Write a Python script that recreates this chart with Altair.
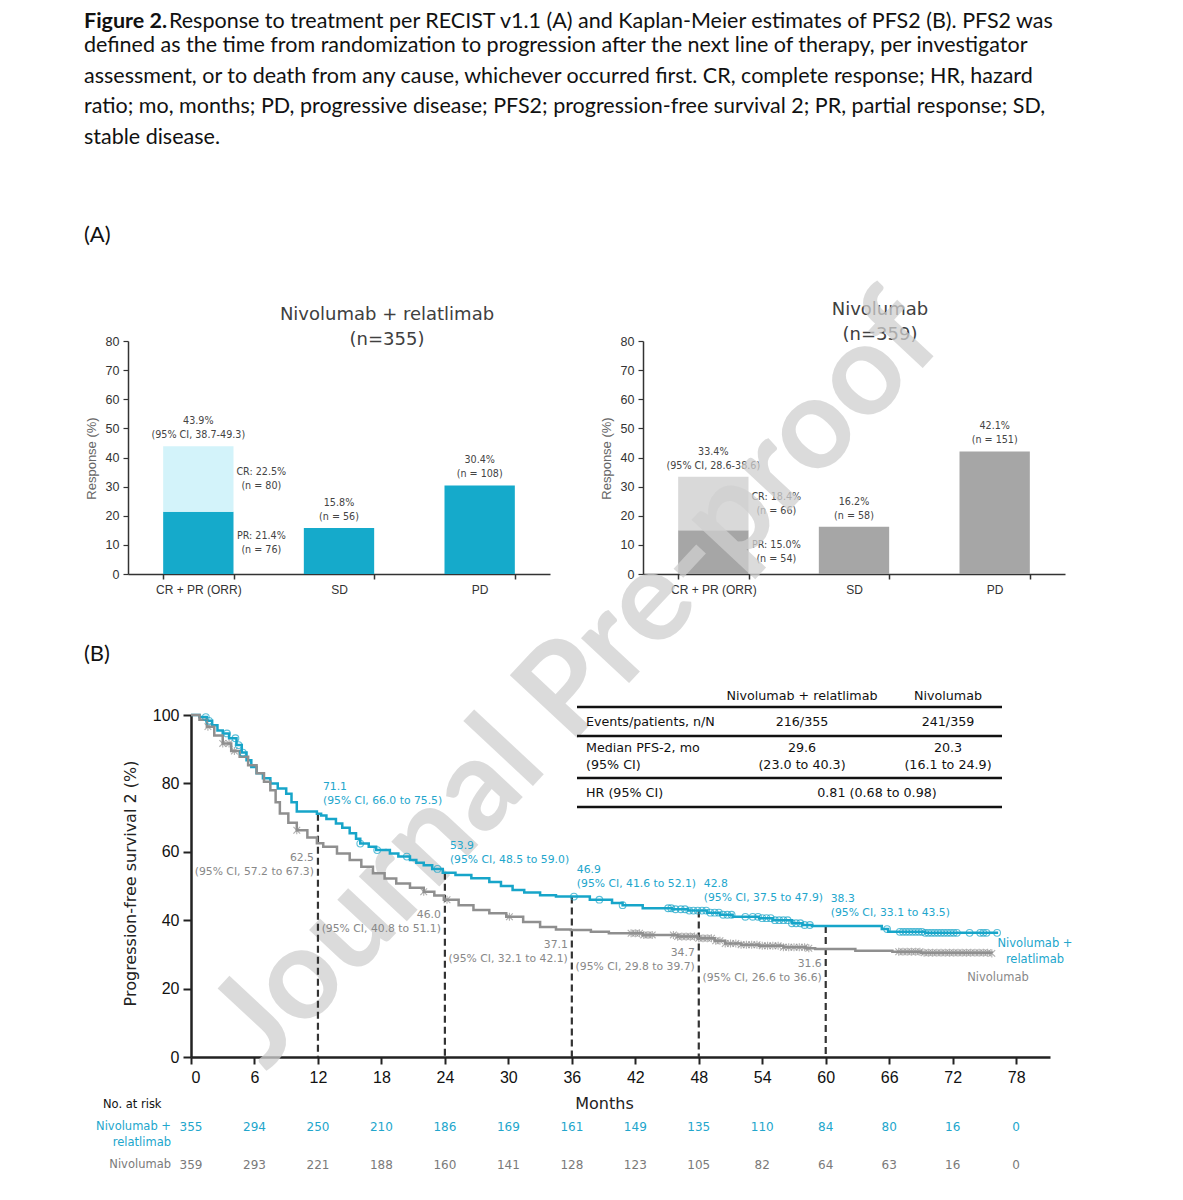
import altair as alt
import numpy as np
import pandas as pd

# ------------------------------------------------------------------ data
caption_bold = "Figure 2."
caption_first = "Response to treatment per RECIST v1.1 (A) and Kaplan-Meier estimates of PFS2 (B). PFS2 was"
caption_lines = [
    "defined as the time from randomization to progression after the next line of therapy, per investigator",
    "assessment, or to death from any cause, whichever occurred first. CR, complete response; HR, hazard",
    "ratio; mo, months; PD, progressive disease; PFS2; progression-free survival 2; PR, partial response; SD,",
    "stable disease.",
]

resp_categories = ["CR + PR (ORR)", "SD", "PD"]
resp_segment_cat = ["CR + PR (ORR)", "CR + PR (ORR)", "SD", "PD"]
resp_segments = ["PR", "CR", "SD", "PD"]

combo_title = "Nivolumab + relatlimab\n(n=355)"
combo_values = [21.4, 22.5, 15.8, 30.4]
combo_top_labels = ["43.9%\n(95% CI, 38.7-49.3)", "15.8%\n(n = 56)", "30.4%\n(n = 108)"]
combo_seg_labels = ["PR: 21.4%\n(n = 76)", "CR: 22.5%\n(n = 80)"]

nivo_title = "Nivolumab\n(n=359)"
nivo_values = [15.0, 18.4, 16.2, 42.1]
nivo_top_labels = ["33.4%\n(95% CI, 28.6-38.6)", "16.2%\n(n = 58)", "42.1%\n(n = 151)"]
nivo_seg_labels = ["PR: 15.0%\n(n = 54)", "CR: 18.4%\n(n = 66)"]

arms = ["Nivolumab + relatlimab", "Nivolumab"]
km_month_ticks = [0, 6, 12, 18, 24, 30, 36, 42, 48, 54, 60, 66, 72, 78]
km_pct_ticks = [0, 20, 40, 60, 80, 100]

combo_km_months = [0, 0.8, 1.5, 2.0, 2.5, 3.0, 3.6, 4.3, 4.8, 5.25, 5.7, 6.2, 6.8, 7.5, 8.2,
                   9.0, 9.5, 10.0, 11.9, 12.3, 12.8, 13.7, 14.3, 15.0, 15.6, 16.0, 16.8, 17.5,
                   18.8, 19.6, 20.7, 21.3, 22.0, 22.8, 23.8, 25.0, 26.5, 28.2, 29.3, 30.4, 31.5,
                   33.0, 34.5, 37.7, 39.8, 40.8, 42.7, 45.5, 47.0, 48.8, 50.0, 51.2, 53.7, 55.0,
                   56.8, 57.8, 58.7, 64.7, 65.3, 65.9, 69.4, 76.3]
combo_km_pfs2 = [100, 99.4, 98.3, 97.0, 95.5, 94.6, 93.2, 91.2, 89.0, 86.8, 84.8, 83.0, 81.5, 80.0, 78.5,
                 77.0, 74.5, 71.8, 71.1, 70.6, 69.6, 68.3, 67.0, 65.4, 63.8, 62.4, 61.5, 60.5,
                 59.5, 58.6, 57.6, 56.8, 56.1, 55.0, 53.9, 53.2, 52.3, 51.2, 50.0, 48.8, 48.1,
                 47.3, 46.9, 46.0, 45.0, 44.4, 43.5, 43.2, 42.8, 42.2, 41.6, 41.0, 40.6, 40.0,
                 39.1, 38.6, 38.3, 38.3, 37.4, 36.6, 36.3, 36.3]

nivo_km_months = [0, 0.8, 1.5, 2.2, 3.0, 3.8, 4.6, 5.4, 6.2, 6.9, 7.5, 8.0, 8.4, 9.2, 10.0,
                  11.0, 11.9, 12.5, 13.8, 15.0, 16.1, 17.2, 18.3, 19.4, 20.7, 22.0, 23.0, 23.9,
                  25.3, 26.7, 28.2, 29.8, 31.4, 33.0, 34.5, 35.9, 37.8, 39.5, 42.7, 46.0, 47.9,
                  49.5, 50.5, 52.0, 53.7, 56.0, 58.1, 59.0, 62.8, 66.3, 69.0, 75.7]
nivo_km_pfs2 = [100, 98.6, 96.6, 94.0, 91.7, 89.5, 87.8, 85.3, 83.0, 80.5, 78.0, 74.5, 71.2, 68.5, 66.3,
                64.2, 62.5, 61.5, 59.5, 57.6, 55.6, 53.7, 52.2, 50.7, 49.5, 48.3, 47.2, 46.0,
                44.4, 43.0, 42.0, 41.0, 39.5, 38.0, 37.3, 37.1, 36.6, 36.2, 35.7, 35.2, 34.7,
                34.0, 33.2, 32.8, 32.5, 32.1, 31.8, 31.6, 31.1, 30.8, 30.5, 30.3]

combo_censor_months = [1.4, 1.7, 3.4, 4.2, 4.5, 4.9, 16.0, 17.6, 20.4, 23.3, 36.2, 38.6, 40.8,
                       45.1, 45.4, 45.8, 46.3, 46.7, 47.1, 47.5, 47.9, 48.3, 48.7, 49.1, 49.5,
                       49.9, 50.3, 50.7, 51.1, 52.4, 53.1, 53.6, 54.0, 54.4, 54.8, 55.2, 55.6,
                       56.0, 56.4, 56.8, 57.2, 57.6, 58.0, 58.5, 65.8, 67.0, 67.3, 67.6, 67.9,
                       68.2, 68.5, 68.8, 69.1, 69.4, 69.7, 70.0, 70.3, 70.6, 70.9, 71.2, 71.5,
                       71.8, 72.1, 72.4, 73.6, 74.6, 74.9, 75.2, 76.2]
nivo_censor_months = [1.6, 3.0, 3.6, 4.1, 10.0, 22.0, 24.2, 30.1, 41.6, 42.0, 42.4, 42.8, 43.2,
                      43.6, 45.6, 46.0, 46.4, 46.8, 47.2, 47.6, 48.0, 48.4, 48.8, 49.2, 49.6,
                      50.0, 50.5, 51.0, 51.5, 52.0, 52.5, 53.0, 53.5, 54.0, 54.5, 55.0, 55.5,
                      56.0, 56.5, 57.0, 57.5, 58.0, 58.4, 66.9, 67.3, 67.7, 68.1, 68.5, 68.9,
                      69.3, 69.7, 70.1, 70.5, 70.9, 71.3, 71.7, 72.1, 72.5, 72.9, 73.3, 73.7,
                      74.1, 74.5, 74.9, 75.3, 75.7]

landmark_months = [12, 24, 36, 48, 60]
combo_landmark = [71.1, 53.9, 46.9, 42.8, 38.3]
combo_landmark_ci = ["(95% CI, 66.0 to 75.5)", "(95% CI, 48.5 to 59.0)", "(95% CI, 41.6 to 52.1)",
                     "(95% CI, 37.5 to 47.9)", "(95% CI, 33.1 to 43.5)"]
nivo_landmark = [62.5, 46.0, 37.1, 34.7, 31.6]
nivo_landmark_ci = ["(95% CI, 57.2 to 67.3)", "(95% CI, 40.8 to 51.1)", "(95% CI, 32.1 to 42.1)",
                    "(95% CI, 29.8 to 39.7)", "(95% CI, 26.6 to 36.6)"]

risk_combo = [355, 294, 250, 210, 186, 169, 161, 149, 135, 110, 84, 80, 16, 0]
risk_nivo = [359, 293, 221, 188, 160, 141, 128, 123, 105, 82, 64, 63, 16, 0]

table_header = ["Nivolumab + relatlimab", "Nivolumab"]
table_row_labels = ["Events/patients, n/N", "Median PFS-2, mo\n(95% CI)", "HR (95% CI)"]
table_combo = ["216/355", "29.6\n(23.0 to 40.3)"]
table_nivo = ["241/359", "20.3\n(16.1 to 24.9)"]
table_hr = "0.81 (0.68 to 0.98)"

# ------------------------------------------------------------------ style
BLUE = "#17a5c9"
BLUE_TXT = "#22a6cc"
GRAY = "#8f8f8f"
GRAY_TXT = "#888888"
CAP_FONT = "Lato"
CH_FONT = "DejaVu Sans"
TK_FONT = "Liberation Sans"
W, H = 1100, 1170


def label(text, x, y, **kw):
    """A free-standing text item placed in page layout (pixels); first line centred on y."""
    style = dict(align="left", baseline="middle", lineBreak="\n")
    style.update(kw)
    return alt.Chart(pd.DataFrame({"t": [text]})).mark_text(**style).encode(
        text="t:N", x=alt.value(x), y=alt.value(y))


def hrule(x1, x2, y, **kw):
    return alt.Chart(pd.DataFrame({"t": [0]})).mark_rule(**kw).encode(
        x=alt.value(x1), x2=alt.value(x2), y=alt.value(y))


# ------------------------------------------------------------------ bar panels
def bar_panel(values, top_labels, seg_labels, colors, x0, x1, title, title_x, title_y):
    df = pd.DataFrame({"cat": resp_segment_cat, "seg": resp_segments, "value": values})
    df["y1"] = df.groupby("cat")["value"].cumsum()
    df["y0"] = df["y1"] - df["value"]
    df["mid"] = (df["y0"] + df["y1"]) / 2

    xs = alt.Scale(domain=resp_categories, range=[x0, x1], paddingInner=0.5, paddingOuter=0.25)
    ys = alt.Scale(domain=[0, 80], range=[566, 333], nice=False, zero=True)
    xax = alt.Axis(orient="bottom", offset=566 - H, title=None, tickBand="extent", labelAngle=0,
                   labelFont=TK_FONT, labelFontSize=12, labelColor="#333", labelPadding=5,
                   tickSize=5, tickColor="#333", domainColor="#333", domainWidth=1.5, tickWidth=1.5,
                   grid=False)
    yax = alt.Axis(orient="left", offset=-x0, values=list(range(0, 81, 10)), title="Response (%)",
                   titleFont=TK_FONT, titleFontSize=13, titleFontWeight="normal", titleColor="#666",
                   titleX=-37, titleY=450, titleAngle=270, titleBaseline="middle", titleAlign="center",
                   labelFont=TK_FONT, labelFontSize=12.5, labelColor="#333", labelPadding=4,
                   tickSize=5, tickColor="#333", domainColor="#333", domainWidth=1.5, tickWidth=1.2,
                   grid=False)
    X = lambda f: alt.X(f, scale=xs, axis=xax)
    Y = lambda f: alt.Y(f, scale=ys, axis=yax)

    bars = alt.Chart(df).mark_bar().encode(
        x=X("cat:N"), y=Y("y0:Q"), y2="y1:Q",
        color=alt.Color("seg:N", scale=alt.Scale(domain=resp_segments, range=colors), legend=None))

    tot = df.groupby("cat", sort=False)["y1"].max().reindex(resp_categories).reset_index()
    tot["label"] = top_labels
    top = alt.Chart(tot).mark_text(font=CH_FONT, fontSize=9.6, color="#444", baseline="middle",
                                   dy=-25, lineBreak="\n", lineHeight=14).encode(
        x=X("cat:N"), y=Y("y1:Q"), text="label:N")

    seg = df[df["cat"] == resp_categories[0]].copy()
    seg["label"] = seg_labels
    segt = alt.Chart(seg).mark_text(font=CH_FONT, fontSize=9.6, color="#444", baseline="middle",
                                    dx=63, dy=-7, lineBreak="\n", lineHeight=14).encode(
        x=X("cat:N"), y=Y("mid:Q"), text="label:N")

    ttl = label(title, title_x, title_y, align="center", font=CH_FONT, fontSize=18,
                color="#404040", lineHeight=25)
    return alt.layer(bars, top, segt, ttl)


panel_a = bar_panel(combo_values, combo_top_labels, combo_seg_labels,
                    ["#15aacb", "#d3f3fa", "#15aacb", "#15aacb"], 120, 542,
                    combo_title, 379, 307)
panel_b = bar_panel(nivo_values, nivo_top_labels, nivo_seg_labels,
                    ["#a6a6a6", "#d9d9d9", "#a6a6a6", "#a6a6a6"], 635, 1057,
                    nivo_title, 872, 302)

# ------------------------------------------------------------------ KM panel
def step_lookup(times, values, query):
    idx = np.searchsorted(np.array(times), np.array(query), side="right") - 1
    return np.array(values)[idx]


curves = pd.DataFrame({
    "month": combo_km_months + nivo_km_months,
    "pfs2": combo_km_pfs2 + nivo_km_pfs2,
    "arm": [arms[0]] * len(combo_km_months) + [arms[1]] * len(nivo_km_months),
})
cens_c = pd.DataFrame({"month": combo_censor_months,
                       "pfs2": step_lookup(combo_km_months, combo_km_pfs2, combo_censor_months)})
cens_n = pd.DataFrame({"month": nivo_censor_months,
                       "pfs2": step_lookup(nivo_km_months, nivo_km_pfs2, nivo_censor_months)})
lm = pd.DataFrame({"month": landmark_months, "combo": combo_landmark, "nivo": nivo_landmark})
lm["combo_txt"] = [f"{v:.1f}\n{c}" for v, c in zip(combo_landmark, combo_landmark_ci)]
lm["nivo_txt"] = [f"{v:.1f}\n{c}" for v, c in zip(nivo_landmark, nivo_landmark_ci)]
risk = pd.DataFrame({"month": km_month_ticks, "combo": risk_combo, "nivo": risk_nivo})

kx = alt.Scale(domain=[0, 81.2], range=[183, 1042], nice=False, zero=False)
ky = alt.Scale(domain=[0, 100], range=[1049, 707], nice=False)
kxax = alt.Axis(orient="bottom", offset=1049 - H, values=km_month_ticks, title="Months",
                titleFont=CH_FONT, titleFontSize=16, titleFontWeight="normal", titleColor="#222",
                titleX=596, titleY=46, titleBaseline="middle", titleAlign="center",
                labelFont=TK_FONT, labelFontSize=16, labelColor="#111", labelPadding=5,
                tickSize=7, tickWidth=2, tickColor="#222", domainWidth=2.5, domainColor="#222",
                grid=False)
kyax = alt.Axis(orient="left", offset=-183, values=km_pct_ticks,
                title="Progression-free survival 2 (%)",
                titleFont=CH_FONT, titleFontSize=16, titleFontWeight="normal", titleColor="#222",
                titleX=-61, titleY=875, titleAngle=270, titleBaseline="middle", titleAlign="center",
                labelFont=TK_FONT, labelFontSize=16, labelColor="#111", labelPadding=4,
                tickSize=8, tickWidth=2, tickColor="#222", domainWidth=2.5, domainColor="#222",
                grid=False)
KX = lambda f: alt.X(f, scale=kx, axis=kxax)
KY = lambda f: alt.Y(f, scale=ky, axis=kyax)

lines = alt.Chart(curves).mark_line(interpolate="step-after", strokeWidth=2.5).encode(
    x=KX("month:Q"), y=KY("pfs2:Q"),
    color=alt.Color("arm:N", scale=alt.Scale(domain=arms, range=[BLUE, GRAY]), legend=None))
cens_blue = alt.Chart(cens_c).mark_point(shape="circle", filled=False, size=45, strokeWidth=1.1,
                                         color=BLUE).encode(x=KX("month:Q"), y=KY("pfs2:Q"))
cens_gray = alt.Chart(cens_n).mark_point(shape="M-1,-1L1,1M-1,1L1,-1M0,-1.2L0,1.2", filled=False,
                                         size=45, strokeWidth=1.1, color=GRAY).encode(
    x=KX("month:Q"), y=KY("pfs2:Q"))
dashes = alt.Chart(lm).mark_rule(strokeDash=[7, 4], strokeWidth=2.2, color="#333").encode(
    x=KX("month:Q"), y=KY("combo:Q"), y2=alt.datum(0))
lab_blue = alt.Chart(lm).mark_text(font=CH_FONT, fontSize=10.8, color=BLUE_TXT, align="left",
                                   baseline="middle", dx=5, dy=-27, lineBreak="\n",
                                   lineHeight=14).encode(
    x=KX("month:Q"), y=KY("combo:Q"), text="combo_txt:N")
lab_gray = alt.Chart(lm).mark_text(font=CH_FONT, fontSize=10.8, color=GRAY_TXT, align="right",
                                   baseline="middle", dx=-4, dy=15, lineBreak="\n",
                                   lineHeight=14).encode(
    x=KX("month:Q"), y=KY("nivo:Q"), text="nivo_txt:N")
risk_blue = alt.Chart(risk).mark_text(font=CH_FONT, fontSize=12, color=BLUE_TXT).encode(
    x=KX("month:Q"), y=alt.value(1119), text="combo:Q")
risk_gray = alt.Chart(risk).mark_text(font=CH_FONT, fontSize=12, color="#7a7a7a").encode(
    x=KX("month:Q"), y=alt.value(1157), text="nivo:Q")

km_panel = alt.layer(dashes, lines, cens_gray, cens_blue, lab_blue, lab_gray, risk_blue, risk_gray)

# ------------------------------------------------------------------ free text / table
TB = dict(font=CH_FONT, fontSize=12.7, color="#111")
texts = [
    label(caption_bold, 76, 14, font=CAP_FONT, fontSize=21.5, fontWeight="bold", color="#111"),
    label(caption_first, 161, 14, font=CAP_FONT, fontSize=21.5, color="#111"),
    label("\n".join(caption_lines), 76, 38, font=CAP_FONT, fontSize=21.5, color="#111",
          lineHeight=30.5),
    label("(A)", 76, 227, font=CAP_FONT, fontSize=22, color="#111"),
    label("(B)", 76, 646, font=CAP_FONT, fontSize=22, color="#111"),
    # table
    label(table_header[0], 794, 688, align="center", **TB),
    label(table_header[1], 940, 688, align="center", **TB),
    label(table_row_labels[0], 578, 714, **TB),
    label(table_row_labels[1], 578, 740, lineHeight=17, **TB),
    label(table_row_labels[2], 578, 785, **TB),
    label(table_combo[0], 794, 714, align="center", **TB),
    label(table_nivo[0], 940, 714, align="center", **TB),
    label(table_combo[1], 794, 740, align="center", lineHeight=17, **TB),
    label(table_nivo[1], 940, 740, align="center", lineHeight=17, **TB),
    label(table_hr, 869, 785, align="center", **TB),
    # curve end labels
    label("Nivolumab +\nrelatlimab", 1027, 936, align="center", font=CH_FONT, fontSize=11.5,
          color=BLUE_TXT, lineHeight=16),
    label("Nivolumab", 990, 970, align="center", font=CH_FONT, fontSize=11.5, color=GRAY_TXT),
    # risk table labels
    label("No. at risk", 95, 1097, font=CH_FONT, fontSize=11.5, color="#111"),
    label("Nivolumab +\nrelatlimab", 163, 1119, align="right", font=CH_FONT, fontSize=11.5,
          color=BLUE_TXT, lineHeight=16),
    label("Nivolumab", 163, 1157, align="right", font=CH_FONT, fontSize=11.5, color="#7a7a7a"),
]
rules = [hrule(569, 994, y, color="#111", strokeWidth=2.5) for y in [699, 728, 770, 799]]

watermark = label("Journal Pre-proof", 570, 674, align="center", font=CAP_FONT, fontSize=128,
                  fontWeight="bold", color="#d0d0d0", opacity=0.75, angle=313)

chart = alt.layer(
    panel_a, panel_b, watermark, km_panel, *rules, *texts
).resolve_scale(
    x="independent", y="independent", color="independent"
).resolve_axis(
    x="independent", y="independent"
).properties(
    width=W, height=H, padding=0, autosize=alt.AutoSizeParams(type="none")
).configure_view(strokeWidth=0)

chart.save("out.html", embed_options={"renderer": "svg", "actions": False})
